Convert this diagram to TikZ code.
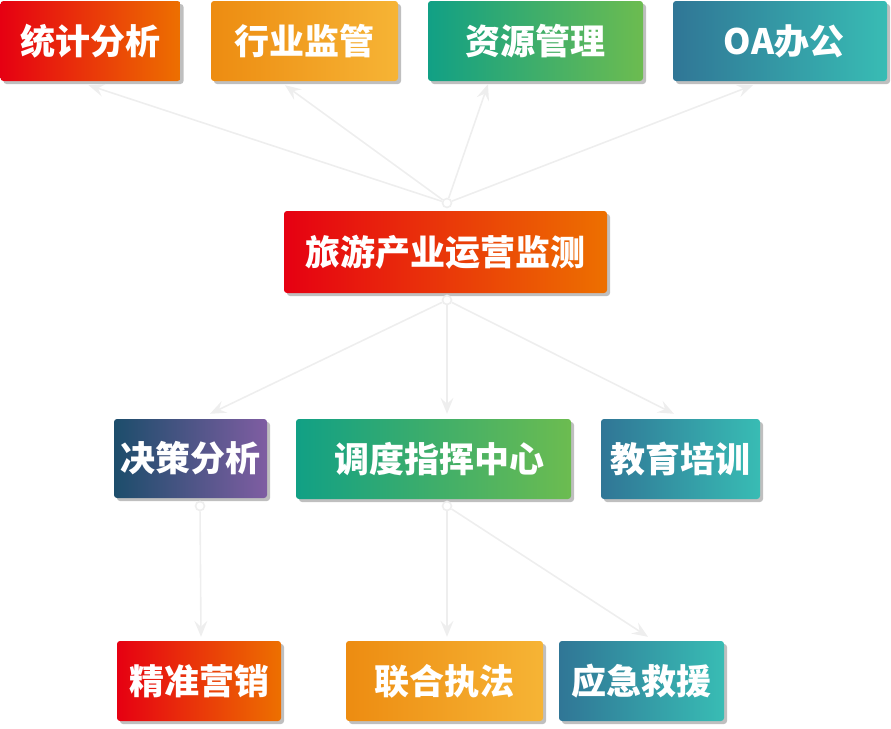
\documentclass[tikz,border=0pt]{standalone}
\usepackage{fontspec}
\setmainfont{Noto Sans CJK SC}
\usetikzlibrary{arrows.meta,shadows}
\definecolor{lineg}{RGB}{238,238,238}
\definecolor{rA}{RGB}{230,0,18}\definecolor{rB}{RGB}{237,112,0}
\definecolor{oA}{RGB}{237,140,17}\definecolor{oB}{RGB}{246,180,53}
\definecolor{gA}{RGB}{17,160,133}\definecolor{gB}{RGB}{108,188,80}
\definecolor{tA}{RGB}{48,118,150}\definecolor{tB}{RGB}{56,188,180}
\definecolor{pA}{RGB}{28,77,107}\definecolor{pB}{RGB}{127,93,162}
\tikzset{
 box/.style={rounded corners=3pt, text=white, font=\bfseries\fontsize{35}{35}\selectfont,
   inner sep=0pt, minimum height=80pt,
   drop shadow={shadow xshift=3pt, shadow yshift=-3pt, fill=black!50, opacity=0.5}},
 gred/.style={left color=rA, right color=rB},
 gorange/.style={left color=oA, right color=oB},
 ggreen/.style={left color=gA, right color=gB},
 gteal/.style={left color=tA, right color=tB},
 gpurple/.style={left color=pA, right color=pB},
 conn/.style={draw=lineg, line width=1.6pt, -{Stealth[length=16pt,width=13pt,inset=6pt]}},
 hub/.style={circle, draw=lineg, line width=1.6pt, fill=white, minimum size=9pt, inner sep=0pt}
}
\begin{document}
\begin{tikzpicture}[x=1pt,y=-1pt]
\useasboundingbox (0,0) rectangle (891,728);
% top row
\node[box, gred, minimum width=180pt] (b1) at (90.5,41) {统计分析};
\node[box, gorange, minimum width=187pt] (b2) at (304.5,41) {行业监管};
\node[box, ggreen, minimum width=215pt] (b3) at (535.5,41) {资源管理};
\node[box, gteal, minimum width=214pt] (b4) at (780,41) {\hspace{8pt}OA办公};
% center
\node[box, gred, minimum width=323pt, minimum height=82pt] (b5) at (445.5,252) {旅游产业运营监测};
% middle row
\node[box, gpurple, minimum width=153pt, minimum height=79pt] (b6) at (190.5,458.5) {决策分析};
\node[box, ggreen, minimum width=275pt] (b7) at (433.5,459) {\hspace{12pt}调度指挥中心};
\node[box, gteal, minimum width=159pt] (b8) at (680.5,459) {教育培训};
% bottom row
\node[box, gred, minimum width=164pt] (b9) at (199,681) {精准营销};
\node[box, gorange, minimum width=197pt] (b10) at (444.5,681) {联合执法};
\node[box, gteal, minimum width=165pt] (b11) at (641.5,681) {应急救援};
% hubs
\node[hub] (hA) at (447,203) {};
\node[hub] (hB) at (447,300) {};
\node[hub] (hC) at (200,506) {};
\node[hub] (hD) at (447,506) {};
% connectors
\draw[conn] (hA) -- ([xshift=-2pt,yshift=-4pt]b1.south);
\draw[conn] (hA) -- ([xshift=-19.5pt,yshift=-4pt]b2.south);
\draw[conn] (hA) -- ([xshift=-47.5pt,yshift=-3pt]b3.south);
\draw[conn] (hA) -- ([xshift=-27pt,yshift=-4pt]b4.south);
\draw[conn] (hB) -- ([xshift=19.5pt,yshift=5pt]b6.north);
\draw[conn] (hB) -- ([xshift=13.5pt,yshift=5pt]b7.north);
\draw[conn] (hB) -- ([xshift=-6.5pt,yshift=5pt]b8.north);
\draw[conn] (hC) -- ([xshift=2pt,yshift=4pt]b9.north);
\draw[conn] (hD) -- ([xshift=2.5pt,yshift=4pt]b10.north);
\draw[conn] (hD) -- ([xshift=6.5pt,yshift=4pt]b11.north);
\end{tikzpicture}
\end{document}
